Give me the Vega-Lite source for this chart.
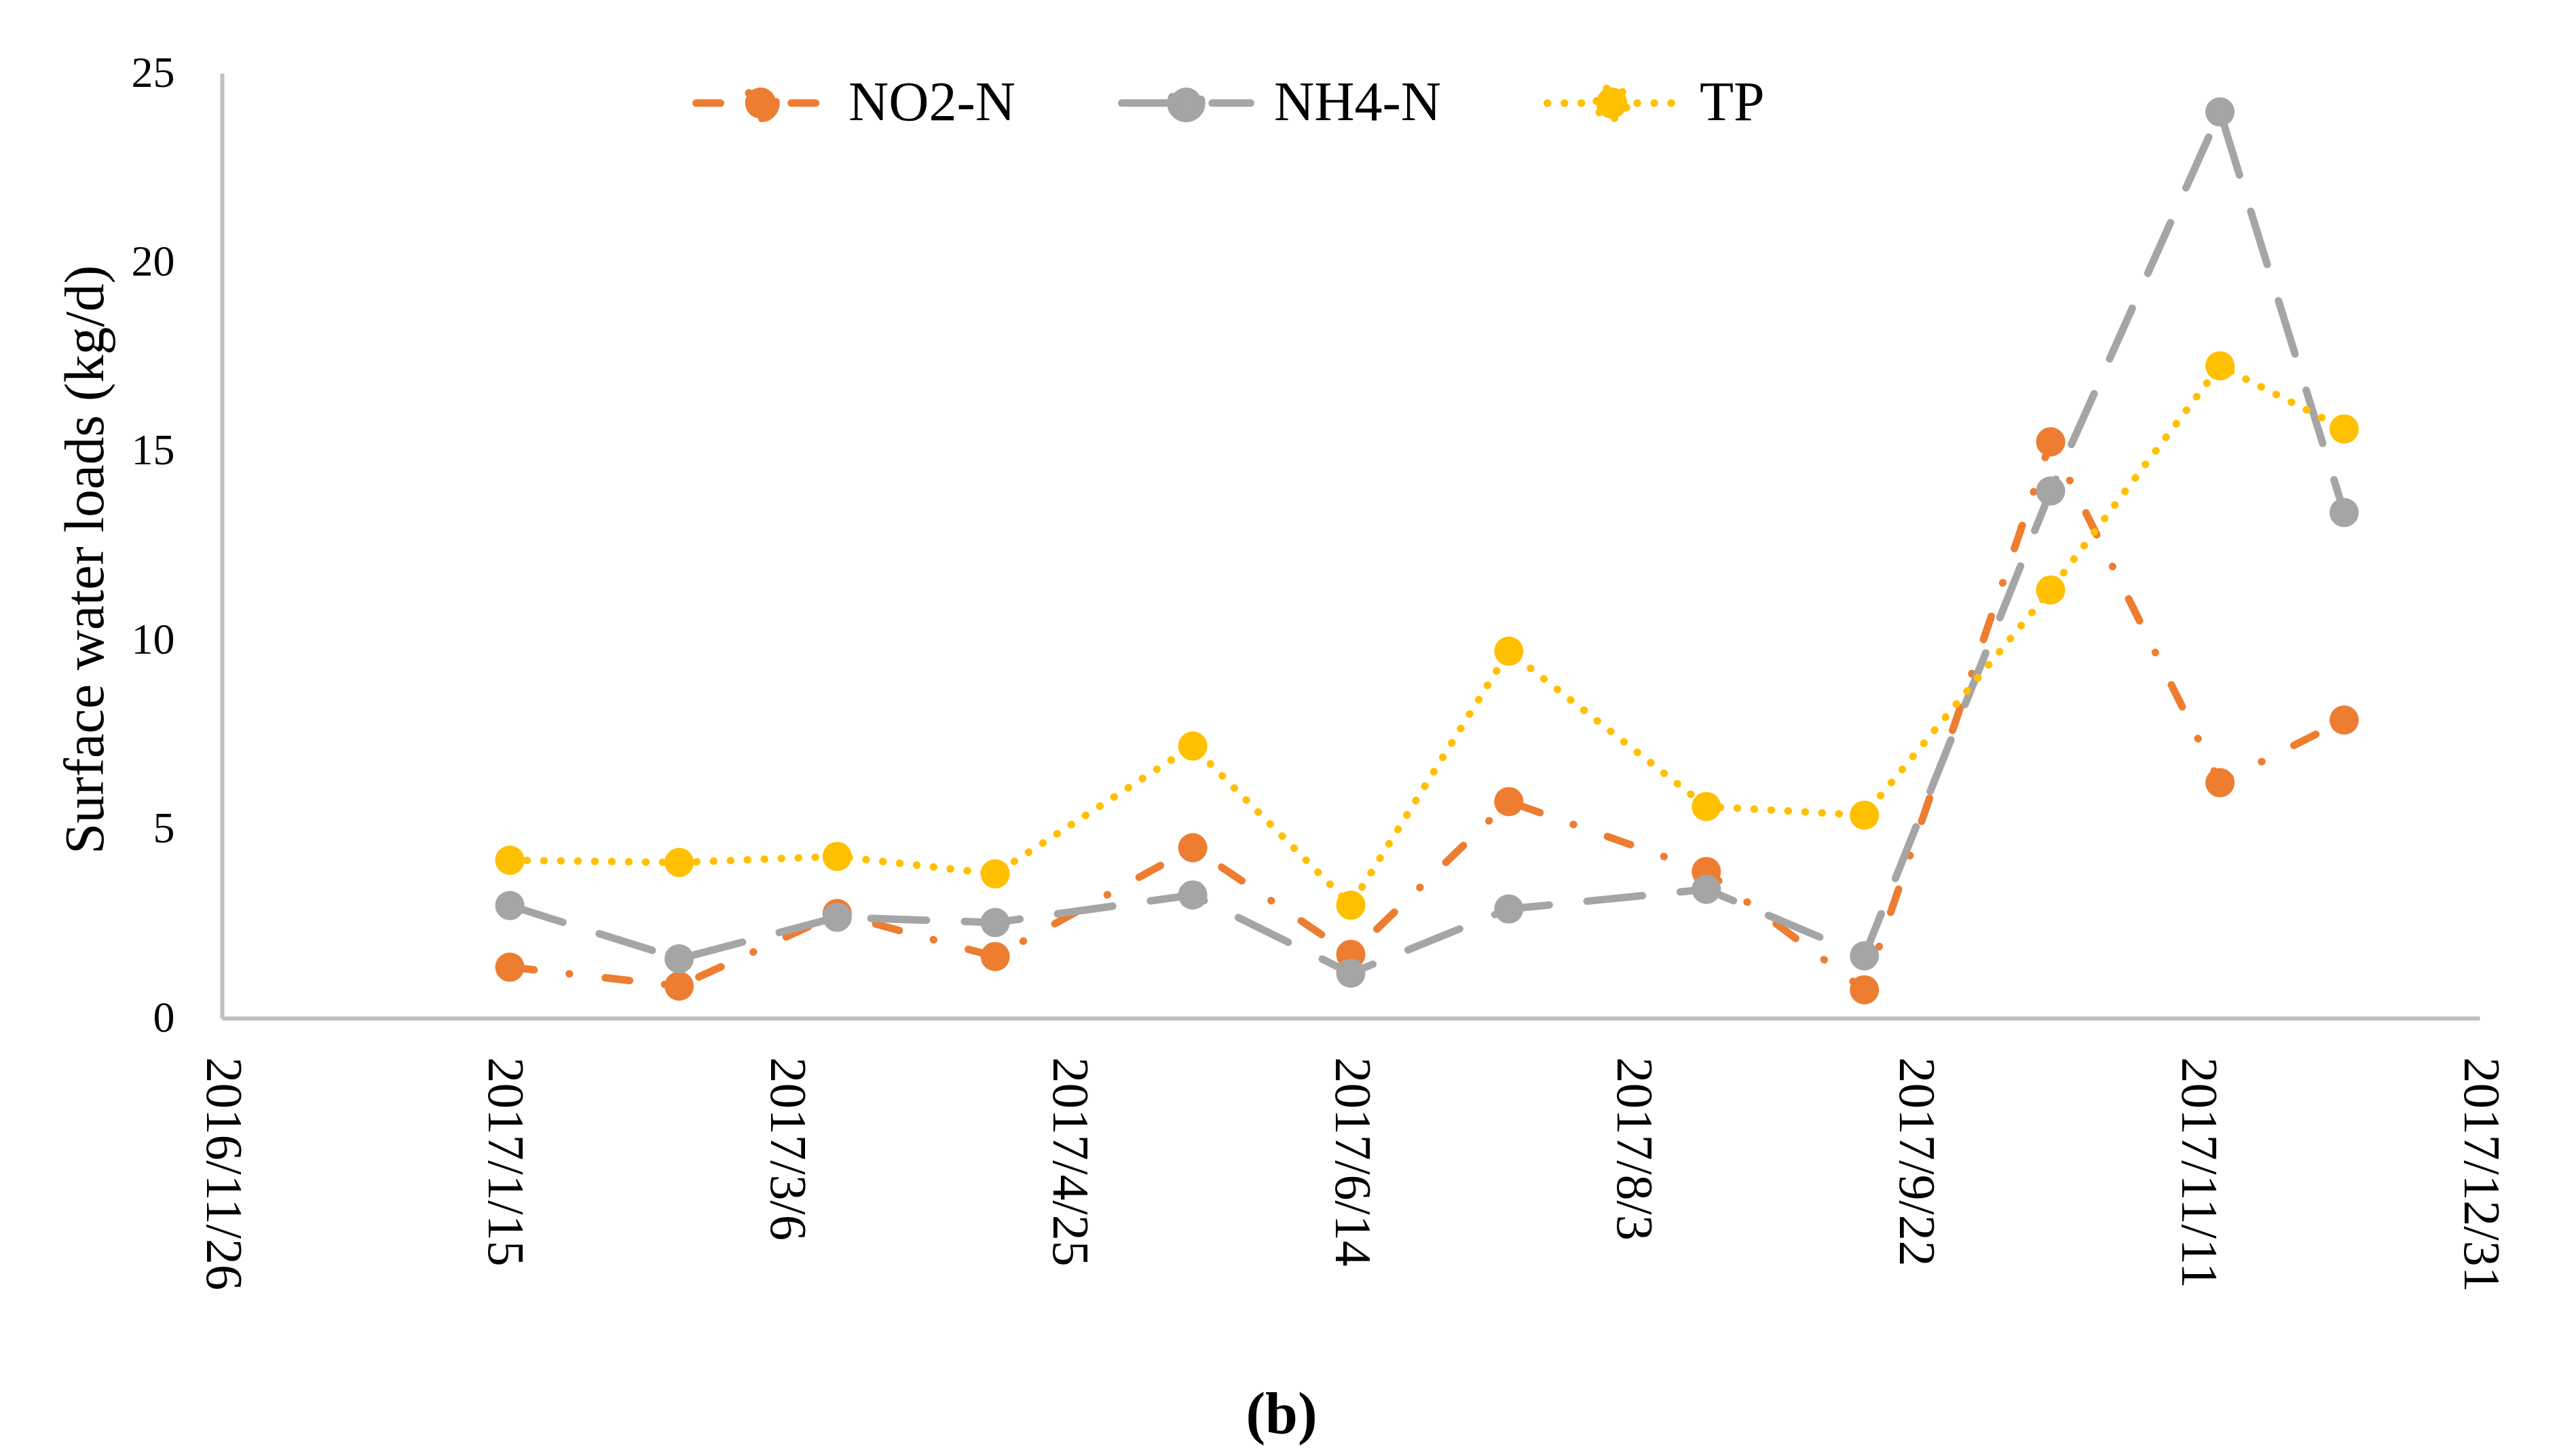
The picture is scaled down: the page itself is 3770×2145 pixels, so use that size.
{
  "$schema": "https://vega.github.io/schema/vega-lite/v6.json",
  "width": 3326,
  "height": 1392,
  "autosize": {"type": "none"},
  "padding": {"left": 327, "top": 108, "right": 117, "bottom": 645},
  "background": "white",
  "title": {"text": "(b)", "orient": "bottom", "anchor": "middle", "frame": "bounds", "font": "Liberation Serif", "fontSize": 86, "fontWeight": "bold", "color": "#000000", "offset": 140},
  "data": {"values": [
    {"date": "2017/01/16", "series": "NO2-N", "value": 1.35},
    {"date": "2017/02/15", "series": "NO2-N", "value": 0.85},
    {"date": "2017/03/15", "series": "NO2-N", "value": 2.77},
    {"date": "2017/04/12", "series": "NO2-N", "value": 1.63},
    {"date": "2017/05/17", "series": "NO2-N", "value": 4.51},
    {"date": "2017/06/14", "series": "NO2-N", "value": 1.69},
    {"date": "2017/07/12", "series": "NO2-N", "value": 5.73},
    {"date": "2017/08/16", "series": "NO2-N", "value": 3.88},
    {"date": "2017/09/13", "series": "NO2-N", "value": 0.75},
    {"date": "2017/10/16", "series": "NO2-N", "value": 15.25},
    {"date": "2017/11/15", "series": "NO2-N", "value": 6.23},
    {"date": "2017/12/07", "series": "NO2-N", "value": 7.89},
    {"date": "2017/01/16", "series": "NH4-N", "value": 2.98},
    {"date": "2017/02/15", "series": "NH4-N", "value": 1.57},
    {"date": "2017/03/15", "series": "NH4-N", "value": 2.67},
    {"date": "2017/04/12", "series": "NH4-N", "value": 2.53},
    {"date": "2017/05/17", "series": "NH4-N", "value": 3.26},
    {"date": "2017/06/14", "series": "NH4-N", "value": 1.19},
    {"date": "2017/07/12", "series": "NH4-N", "value": 2.89},
    {"date": "2017/08/16", "series": "NH4-N", "value": 3.41},
    {"date": "2017/09/13", "series": "NH4-N", "value": 1.65},
    {"date": "2017/10/16", "series": "NH4-N", "value": 13.95},
    {"date": "2017/11/15", "series": "NH4-N", "value": 23.98},
    {"date": "2017/12/07", "series": "NH4-N", "value": 13.38},
    {"date": "2017/01/16", "series": "TP", "value": 4.18},
    {"date": "2017/02/15", "series": "TP", "value": 4.12},
    {"date": "2017/03/15", "series": "TP", "value": 4.28},
    {"date": "2017/04/12", "series": "TP", "value": 3.82},
    {"date": "2017/05/17", "series": "TP", "value": 7.2},
    {"date": "2017/06/14", "series": "TP", "value": 2.99},
    {"date": "2017/07/12", "series": "TP", "value": 9.71},
    {"date": "2017/08/16", "series": "TP", "value": 5.6},
    {"date": "2017/09/13", "series": "TP", "value": 5.37},
    {"date": "2017/10/16", "series": "TP", "value": 11.33},
    {"date": "2017/11/15", "series": "TP", "value": 17.26},
    {"date": "2017/12/07", "series": "TP", "value": 15.59}
  ]},
  "encoding": {
    "x": {
      "field": "date",
      "type": "temporal",
      "scale": {"domain": [{"year": 2016, "month": 11, "date": 26}, {"year": 2017, "month": 12, "date": 31}], "nice": false},
      "axis": {
        "title": null,
        "values": [
          {"year": 2016, "month": 11, "date": 26},
          {"year": 2017, "month": 1, "date": 15},
          {"year": 2017, "month": 3, "date": 6},
          {"year": 2017, "month": 4, "date": 25},
          {"year": 2017, "month": 6, "date": 14},
          {"year": 2017, "month": 8, "date": 3},
          {"year": 2017, "month": 9, "date": 22},
          {"year": 2017, "month": 11, "date": 11},
          {"year": 2017, "month": 12, "date": 31}
        ],
        "format": "%Y/%-m/%-d",
        "labelAngle": 90,
        "labelAlign": "left",
        "labelBaseline": "middle",
        "labelFont": "Liberation Serif",
        "labelFontSize": 76,
        "labelColor": "#000000",
        "labelPadding": 57,
        "labelLimit": 0,
        "labelFlush": false,
        "labelOverlap": false,
        "labelBound": false,
        "ticks": false,
        "grid": false,
        "domainColor": "#BFBFBF",
        "domainWidth": 6
      }
    },
    "y": {
      "field": "value",
      "type": "quantitative",
      "scale": {"domain": [0, 25], "nice": false},
      "axis": {
        "title": "Surface water loads (kg/d)",
        "titleFont": "Liberation Serif",
        "titleFontSize": 82,
        "titleFontWeight": "normal",
        "titleColor": "#000000",
        "titlePadding": 25,
        "titleY": 716,
        "titleLimit": 0,
        "values": [0, 5, 10, 15, 20, 25],
        "labelFont": "Liberation Serif",
        "labelFontSize": 64,
        "labelColor": "#000000",
        "labelPadding": 70,
        "ticks": false,
        "grid": false,
        "domainColor": "#BFBFBF",
        "domainWidth": 6
      }
    },
    "color": {
      "field": "series",
      "type": "nominal",
      "scale": {"domain": ["NO2-N", "NH4-N", "TP"], "range": ["#ED7D31", "#A5A5A5", "#FFC000"]},
      "legend": {
        "orient": "none",
        "legendX": 693,
        "legendY": -57,
        "direction": "horizontal",
        "title": null,
        "padding": 0,
        "labelFont": "Liberation Serif",
        "labelFontSize": 82,
        "labelColor": "#000000",
        "labelLimit": 0,
        "labelOffset": 29,
        "columnPadding": 134,
        "symbolType": "M-1,0L-0.24,0A0.24,0.24,0,1,1,0.24,0A0.24,0.24,0,1,1,-0.24,0L1,0",
        "symbolSize": 36100,
        "symbolStrokeWidth": 11,
        "symbolOpacity": 1,
        "encode": {
          "symbols": {
            "update": {
              "fill": {"scale": "color", "field": "value"},
              "stroke": {"scale": "color", "field": "value"},
              "strokeCap": {"value": "round"},
              "strokeDash": {"signal": "datum.value === 'NO2-N' ? [36, 226, 71, 100] : datum.value === 'TP' ? [0.5, 24.5, 0.5, 24.5, 0.5, 219.5, 0.5, 24.5, 0.5, 24.5, 0.5, 100] : [72, 143, 500]"}
            }
          }
        }
      }
    }
  },
  "layer": [
    {
      "mark": {"type": "line", "strokeWidth": 11, "strokeCap": "round", "strokeJoin": "round"},
      "encoding": {
        "strokeDash": {
          "field": "series",
          "type": "nominal",
          "scale": {"domain": ["NO2-N", "NH4-N", "TP"], "range": [[36, 52, 0.5, 53], [82, 56], [0.5, 24.5]]},
          "legend": null
        }
      }
    },
    {
      "mark": {"type": "point", "filled": true, "size": 1850, "opacity": 1, "shape": "circle"}
    }
  ],
  "config": {"view": {"stroke": null}, "font": "Liberation Serif"}
}
